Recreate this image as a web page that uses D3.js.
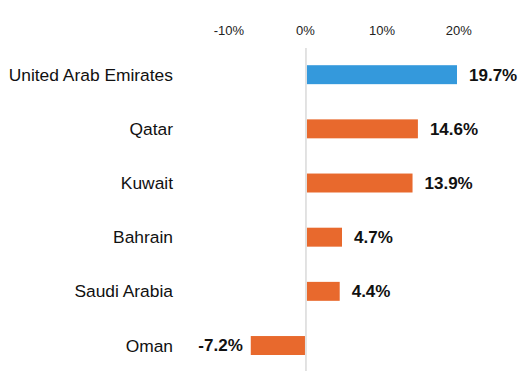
<!DOCTYPE html>
<html>
<head>
<meta charset="utf-8">
<script src="https://cdn.jsdelivr.net/npm/d3@7"></script>
<style>
  body { margin: 0; background: #fff; }
  text { font-family: Arial, "Liberation Sans", sans-serif; }
  .tick text { font-size: 13px; fill: #222; }
  .cat { font-size: 17.4px; fill: #111; }
  .val { font-size: 17px; font-weight: bold; fill: #111; }
</style>
</head>
<body>
<svg width="527" height="371"></svg>
<script>
const countries = ['United Arab Emirates', 'Qatar', 'Kuwait', 'Bahrain', 'Saudi Arabia', 'Oman'];
const growth = [19.7, 14.6, 13.9, 4.7, 4.4, -7.2];
const tickValues = [-10, 0, 10, 20];

const data = countries.map((c, i) => ({ country: c, value: growth[i] }));

const svg = d3.select('svg');

const xScale = d3.scaleLinear()
    .domain([-10, 20])
    .range([229.3, 459.3]);

const yScale = d3.scaleBand()
    .domain(countries)
    .range([47.6, 372.6])
    .paddingInner(0.65)
    .paddingOuter(0.325);

const xAxis = d3.axisTop(xScale)
    .tickValues(tickValues)
    .tickSize(0)
    .tickPadding(3)
    .tickFormat(d => d + '%');

const xAxisG = svg.append('g')
    .attr('transform', 'translate(-1,38)')
    .call(xAxis);
xAxisG.select('.domain').remove();
xAxisG.selectAll('.tick text').attr('font-family', null).attr('font-size', null);

// zero line
svg.append('line')
    .attr('x1', xScale(0)).attr('x2', xScale(0))
    .attr('y1', 48).attr('y2', 371)
    .attr('stroke', '#d9d9d9')
    .attr('stroke-width', 1.5);

svg.selectAll('rect.bar').data(data)
  .enter().append('rect')
    .attr('class', 'bar')
    .attr('x', d => xScale(Math.min(0, d.value)) + (d.value > 0 ? 1 : 0))
    .attr('y', d => yScale(d.country))
    .attr('width', d => Math.abs(xScale(d.value) - xScale(0)) - 1)
    .attr('height', yScale.bandwidth())
    .attr('fill', (d, i) => i === 0 ? '#3499dc' : '#e8692d');

svg.selectAll('text.cat').data(data)
  .enter().append('text')
    .attr('class', 'cat')
    .attr('x', 173)
    .attr('y', d => yScale(d.country) + yScale.bandwidth() / 2)
    .attr('dy', '0.35em')
    .attr('text-anchor', 'end')
    .text(d => d.country);

svg.selectAll('text.val').data(data)
  .enter().append('text')
    .attr('class', 'val')
    .attr('x', d => d.value >= 0 ? xScale(d.value) + 12 : xScale(d.value) - 8)
    .attr('y', d => yScale(d.country) + yScale.bandwidth() / 2)
    .attr('dy', '0.35em')
    .attr('text-anchor', d => d.value >= 0 ? 'start' : 'end')
    .text(d => d.value.toFixed(1) + '%');
</script>
</body>
</html>
